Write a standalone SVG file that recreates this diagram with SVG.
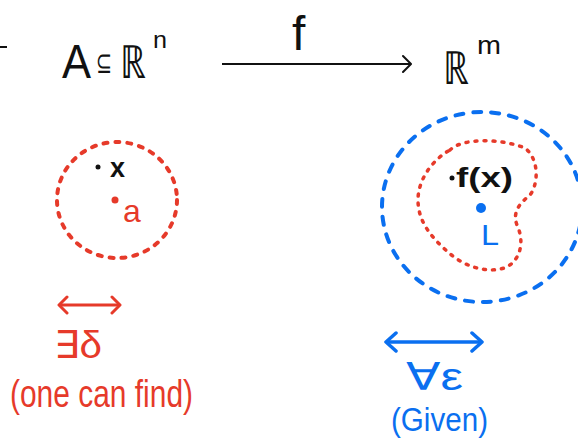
<svg xmlns="http://www.w3.org/2000/svg" width="578" height="442" viewBox="0 0 578 442">
  <style>
    .t { font-family: "Liberation Sans", "DejaVu Sans", sans-serif; }
    .blk { fill: #111; }
    .red { fill: #e63a2a; }
    .blue { fill: #0a6ff0; }
    .ball-red { fill: none; stroke: #e63a2a; stroke-width: 4; stroke-linecap: round; stroke-dasharray: 4 8; }
    .blob-red { fill: none; stroke: #e63a2a; stroke-width: 3.5; stroke-linecap: round; stroke-dasharray: 2 7; }
    .ball-blue { fill: none; stroke: #0a6ff0; stroke-width: 4; stroke-linecap: round; stroke-dasharray: 8 10; }
  </style>
  <defs>
    <marker id="chev-k" viewBox="0 0 10 20" refX="9" refY="10" markerWidth="10" markerHeight="20" markerUnits="userSpaceOnUse" orient="auto">
      <path d="M1,2 L9,10 L1,18" fill="none" stroke="#111" stroke-width="2" stroke-linecap="round" stroke-linejoin="round"/>
    </marker>
    <marker id="chev-r" viewBox="0 0 12 20" refX="10" refY="10" markerWidth="12" markerHeight="20" markerUnits="userSpaceOnUse" orient="auto-start-reverse">
      <path d="M2,2 L10,10 L2,18" fill="none" stroke="#e63a2a" stroke-width="3" stroke-linecap="round" stroke-linejoin="round"/>
    </marker>
    <marker id="chev-b" viewBox="0 0 14 22" refX="12" refY="11" markerWidth="14" markerHeight="22" markerUnits="userSpaceOnUse" orient="auto-start-reverse">
      <path d="M2,2 L12,11 L2,20" fill="none" stroke="#0a6ff0" stroke-width="3.5" stroke-linecap="round" stroke-linejoin="round"/>
    </marker>
  </defs>
  <rect width="578" height="442" fill="#fff"/>

  <!-- stray mark at left edge -->
  <line x1="0" y1="47" x2="7" y2="47" stroke="#111" stroke-width="2"/>

  <g id="domain">
    <text class="t blk" x="62" y="78" font-size="48" font-weight="300" textLength="29" lengthAdjust="spacingAndGlyphs">A</text>
    <text class="t blk" x="96" y="73" font-size="30" font-weight="300" textLength="16" lengthAdjust="spacingAndGlyphs">⊆</text>
    <text class="t blk" x="120" y="78" font-size="46" font-weight="300" textLength="26" lengthAdjust="spacingAndGlyphs">ℝ</text>
    <text class="t blk" x="153" y="48" font-size="24" font-weight="300" textLength="14" lengthAdjust="spacingAndGlyphs">n</text>
  </g>

  <g id="codomain">
    <text class="t blk" x="443" y="84" font-size="46" font-weight="300" textLength="26" lengthAdjust="spacingAndGlyphs">ℝ</text>
    <text class="t blk" x="477" y="54" font-size="26" font-weight="300" textLength="24" lengthAdjust="spacingAndGlyphs">m</text>
  </g>

  <g id="connectors">
    <line x1="222" y1="64" x2="411" y2="64" stroke="#111" stroke-width="2" marker-end="url(#chev-k)"/>
    <line x1="59" y1="305" x2="120" y2="305" stroke="#e63a2a" stroke-width="3" marker-start="url(#chev-r)" marker-end="url(#chev-r)"/>
    <line x1="386" y1="342" x2="482" y2="342" stroke="#0a6ff0" stroke-width="3.5" marker-start="url(#chev-b)" marker-end="url(#chev-b)"/>
  </g>
  <g id="map-label">
    <text class="t blk" x="292" y="50" font-size="48" font-weight="300">f</text>
  </g>

  <g id="delta-ball">
    <ellipse class="ball-red" cx="117" cy="200" rx="60" ry="58"/>
    <circle cx="98" cy="167" r="2.5" fill="#111"/>
    <text class="t blk" x="110" y="177" font-size="27" font-weight="bold">x</text>
    <circle cx="115" cy="200" r="3.5" fill="#e63a2a"/>
    <text class="t red" x="123" y="222" font-size="32">a</text>
  </g>

  <g id="epsilon-ball">
    <ellipse class="ball-blue" cx="482" cy="207" rx="100" ry="95"/>
    <path class="blob-red" d="M450,150 C462,138 500,138 525,148 C540,160 538,185 530,195 C520,203 512,212 517,225 C524,240 522,258 507,267 C490,274 465,268 448,252 C432,238 418,222 418,200 C418,180 432,160 450,150 Z"/>
    <circle cx="452" cy="178" r="2.5" fill="#111"/>
    <text class="t blk" x="456" y="187" font-size="27" font-weight="bold" textLength="57" lengthAdjust="spacingAndGlyphs">f(x)</text>
    <circle cx="481" cy="208" r="5" fill="#0a6ff0"/>
    <text class="t blue" x="481" y="245" font-size="30" textLength="18" lengthAdjust="spacingAndGlyphs">L</text>
  </g>

  <g id="delta-label">
    <text class="t red" x="54" y="358" font-size="38" textLength="48" lengthAdjust="spacingAndGlyphs">∃δ</text>
    <text class="t red" x="10" y="407" font-size="38" textLength="183" lengthAdjust="spacingAndGlyphs">(one can find)</text>
  </g>

  <g id="epsilon-label">
    <text class="t blue" x="406" y="390" font-size="38" textLength="57" lengthAdjust="spacingAndGlyphs">∀ε</text>
    <text class="t blue" x="391" y="431" font-size="33" textLength="97" lengthAdjust="spacingAndGlyphs">(Given)</text>
  </g>
</svg>
